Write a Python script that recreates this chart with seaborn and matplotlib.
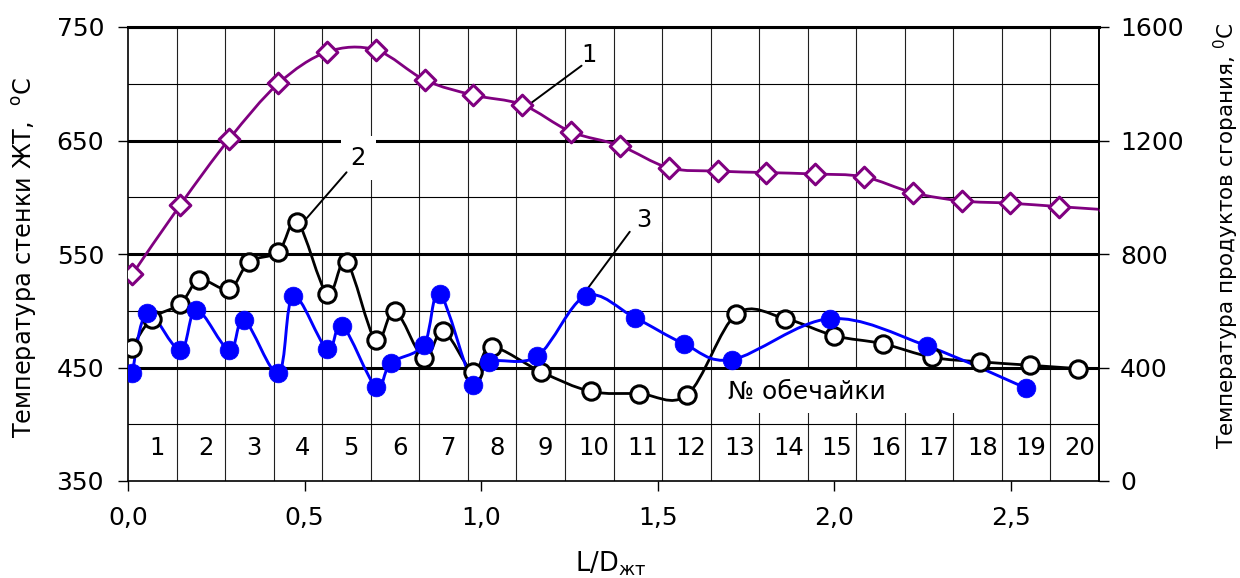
import numpy as np
import seaborn as sns
import matplotlib.pyplot as plt
from matplotlib.path import Path
from matplotlib.patches import PathPatch, Rectangle

# кривая 1 - температура продуктов сгорания (правая ось)
x_gas = [0.012, 0.148, 0.286, 0.426, 0.564, 0.702, 0.841, 0.978, 1.117, 1.254, 1.393,
         1.531, 1.671, 1.808, 1.945, 2.084, 2.223, 2.362, 2.499, 2.637, 2.78]
t_gas = [728, 973, 1204, 1401, 1512, 1519, 1413, 1360, 1326, 1231, 1182,
         1104, 1092, 1087, 1082, 1072, 1016, 987, 979, 967, 955]

# кривая 2 - температура стенки ЖТ (открытые круги)
x_wall2 = [0.010, 0.067, 0.148, 0.202, 0.287, 0.343, 0.426, 0.480, 0.564, 0.619, 0.701,
           0.756, 0.838, 0.893, 0.978, 1.030, 1.171, 1.310, 1.448, 1.584, 1.723, 1.862,
           2.000, 2.137, 2.277, 2.414, 2.554, 2.691]
t_wall2 = [467, 493, 506, 527, 519, 543, 552, 578, 515, 543, 474,
           500, 458, 482, 446, 468, 446, 429, 427, 426, 497, 493,
           478, 471, 459, 455, 452, 449]

# кривая 3 - температура стенки ЖТ (закрашенные круги)
x_wall3 = [0.012, 0.054, 0.148, 0.194, 0.287, 0.329, 0.426, 0.468, 0.564, 0.607, 0.702,
           0.744, 0.838, 0.883, 0.978, 1.022, 1.159, 1.296, 1.435, 1.574, 1.711, 1.988,
           2.263, 2.542]
t_wall3 = [445, 498, 465, 501, 465, 492, 445, 513, 466, 487, 433,
           454, 470, 515, 435, 455, 460, 513, 494, 471, 457, 493,
           469, 432]

sections = [str(i) for i in range(1, 21)]
x_max = 2.75


def smooth_path(x, y):
    # сглаженная линия как в Excel (кривые Безье)
    pts = np.column_stack([x, y]).astype(float)
    n = len(pts)
    verts = [pts[0]]
    codes = [Path.MOVETO]
    for i in range(n - 1):
        p0 = pts[i - 1] if i > 0 else pts[i]
        p1, p2 = pts[i], pts[i + 1]
        p3 = pts[i + 2] if i + 2 < n else pts[i + 1]
        verts += [p1 + (p2 - p0) / 6, p2 - (p3 - p1) / 6, p2]
        codes += [Path.CURVE4] * 3
    return Path(verts, codes)


sns.set_theme(style="white")
plt.rcParams['font.family'] = ['DejaVu Sans']
plt.rcParams['mathtext.fontset'] = 'dejavusans'
plt.rcParams['text.color'] = 'black'
plt.rcParams['xtick.color'] = 'black'
plt.rcParams['ytick.color'] = 'black'
plt.rcParams['axes.labelcolor'] = 'black'

fig = plt.figure(figsize=(12.4, 5.78), dpi=100)
ax = fig.add_axes([128 / 1240, 1 - 481 / 578, 971 / 1240, 454 / 578])
ax2 = ax.twinx()

ax.set_xlim(0, x_max)
ax.set_ylim(350, 750)
ax2.set_ylim(0, 1600)

# сетка
ax.set_yticks([350, 450, 550, 650, 750])
ax.set_yticks([400, 500, 600, 700], minor=True)
ax.set_xticks([0, 0.5, 1.0, 1.5, 2.0, 2.5])
ax.set_xticks([x_max / 20 * k for k in range(1, 20)], minor=True)
ax.set_xticklabels(['0,0', '0,5', '1,0', '1,5', '2,0', '2,5'])
ax.grid(which='major', axis='y', color='black', lw=2.2)
ax.grid(which='minor', axis='y', color='black', lw=0.8)
ax.grid(which='minor', axis='x', color='#202020', lw=0.8)
ax.grid(which='major', axis='x', visible=False)
ax.yaxis.get_gridlines()[0].set_visible(False)

ax.tick_params(axis='y', which='major', length=7.2, width=1, pad=10,
               labelsize=18, color='black', labelcolor='black', left=True)
ax.tick_params(axis='x', which='major', length=7.2, width=1, pad=11,
               labelsize=18, color='black', labelcolor='black', bottom=True)
ax.tick_params(which='minor', length=0)
ax2.set_yticks([0, 400, 800, 1200, 1600])
ax2.tick_params(axis='y', length=7.2, width=1, pad=8, labelsize=18,
                color='black', labelcolor='black', right=True)

for s in ['left', 'bottom', 'right']:
    ax.spines[s].set_color('black')
    ax.spines[s].set_linewidth(1.2)
ax.spines['top'].set_color('black')
ax.spines['top'].set_linewidth(2.2)
for s in ['left', 'bottom', 'top']:
    ax2.spines[s].set_visible(False)
ax2.spines['right'].set_color('black')
ax2.spines['right'].set_linewidth(1.2)

# подпись обечаек
ax.add_patch(Rectangle((1.662, 410), 0.807, 38, facecolor='white',
                       edgecolor='none', zorder=1.5))
ax.text(1.70, 422, '№ обечайки', fontsize=18, ha='left', va='baseline', zorder=1.6)
for k, lab in enumerate(sections):
    ax.text(x_max / 20 * (k + 0.5) + 0.0135, 373, lab, fontsize=17.5,
            ha='center', va='baseline', zorder=1.6)

# линии
ax.add_patch(PathPatch(smooth_path(x_wall2, t_wall2), facecolor='none',
                       edgecolor='black', lw=2.0, zorder=2))
ax.add_patch(PathPatch(smooth_path(x_wall3, t_wall3), facecolor='none',
                       edgecolor='#0000ff', lw=2.1, zorder=2.1))
sns.scatterplot(x=x_wall2, y=t_wall2, ax=ax, marker='o', s=12.5 ** 2,
                color='white', edgecolor='black', linewidth=2.2, zorder=3)
sns.scatterplot(x=x_wall3, y=t_wall3, ax=ax, marker='o', s=13.5 ** 2,
                color='#0000ff', edgecolor='#0000ff', linewidth=0.5, zorder=3.1)

ax2.add_patch(PathPatch(smooth_path(x_gas, t_gas), facecolor='none',
                        edgecolor='#800080', lw=2.0, zorder=2))
sns.scatterplot(x=x_gas, y=t_gas, ax=ax2, marker='D', s=10.5 ** 2,
                color='white', edgecolor='#800080', linewidth=2.2, zorder=3)
ax2.set_xlim(0, x_max)
ax2.set_ylim(0, 1600)

# номера кривых
box = dict(facecolor='white', edgecolor='none', pad=7)
ax.text(1.3066, 719.4, '1', fontsize=17.5, ha='center', va='baseline', zorder=1.7)
ax.annotate('', xy=(1.138, 682.2), xytext=(1.2845, 715.9),
            arrowprops=dict(arrowstyle='-', color='black', lw=1.4, shrinkA=0, shrinkB=0),
            zorder=1.8)
ax.text(0.652, 628.4, '2', fontsize=17.5, ha='center', va='baseline', bbox=box, zorder=1.7)
ax.annotate('', xy=(0.506, 581.5), xytext=(0.619, 622),
            arrowprops=dict(arrowstyle='-', color='black', lw=1.4, shrinkA=0, shrinkB=0),
            zorder=1.8)
ax.text(1.462, 573.5, '3', fontsize=17.5, ha='center', va='baseline', bbox=box, zorder=1.7)
ax.annotate('', xy=(1.294, 516.3), xytext=(1.421, 569.6),
            arrowprops=dict(arrowstyle='-', color='black', lw=1.4, shrinkA=0, shrinkB=0),
            zorder=1.8)

# подписи осей
fig.text(32 / 1240, 1 - 257 / 578, r'Температура стенки ЖТ,  $^{\mathregular{o}}$C',
         fontsize=17.3, rotation=90, rotation_mode='anchor', ha='center', va='baseline')
fig.text(1234 / 1240, 1 - 236 / 578, r'Температура продуктов сгорания, $^{\mathregular{0}}$C',
         fontsize=15.5, rotation=90, rotation_mode='anchor', ha='center', va='baseline')
fig.text(611 / 1240, 1 - 572 / 578, r'L/D$_{\mathregular{жт}}$', fontsize=18.5,
         ha='center', va='baseline')
ax.set_xlabel('')
ax.set_ylabel('')
ax2.set_ylabel('')

fig.savefig('out.png', dpi=100)
